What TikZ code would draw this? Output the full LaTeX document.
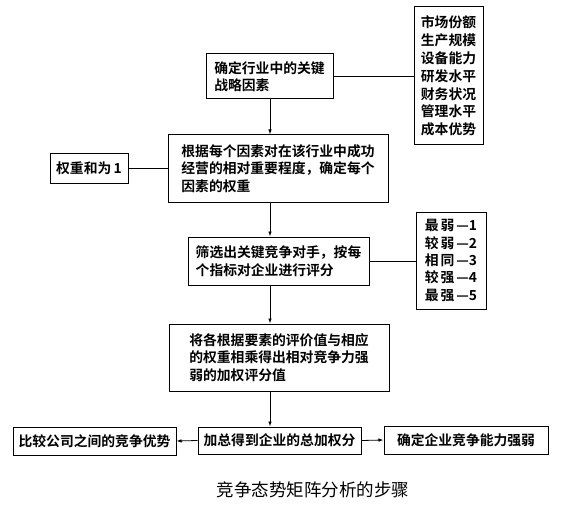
\documentclass[tikz,border=0pt]{standalone}
\usepackage{fontspec}
\setmainfont{Noto Sans CJK SC}
\newfontfamily\boxfont{Noto Sans CJK SC}[UprightFont={* Bold}]
\usetikzlibrary{arrows.meta}
\tikzset{
  box/.style={draw,line width=1pt,align=left,inner sep=0pt,font={\boxfont\fontsize{13.8}{17.5}\selectfont}},
  listbox/.style={box,font={\boxfont\fontsize{13.8}{17.8}\selectfont}},
  flow/.style={line width=0.8pt,-{Latex[length=5pt,width=3.5pt]}},
  link/.style={line width=0.8pt}
}
\begin{document}
\begin{tikzpicture}[x=1pt,y=-1pt]
\useasboundingbox (0,0) rectangle (562,508);
\coordinate (spine) at (270,0);
\node[box,minimum width=127pt,minimum height=45pt](key) at (269.5,76.5){确定行业中的关键\\战略因素};
\node[listbox,minimum width=69pt,minimum height=138pt](factors) at (448.5,76){市场份额\\生产规模\\设备能力\\研发水平\\财务状况\\管理水平\\成本优势};
\node[box,minimum width=78pt,minimum height=30pt](wsum) at (89,168){权重和为\,1};
\node[box,minimum width=220pt,minimum height=67pt](weigh) at (278,168.5){根据每个因素对在该行业中成功\\经营的相对重要程度，确定每个\\因素的权重};
\node[box,minimum width=181pt,minimum height=48pt](rival) at (278.5,261){筛选出关键竞争对手，按每\\个指标对企业进行评分};
\node[listbox,font={\boxfont\fontsize{13.8}{17.3}\selectfont},minimum width=70pt,minimum height=97pt](grade) at (451,260.5){最\hspace{2pt}弱\hspace{2pt}—1\\较\hspace{2pt}弱\hspace{2pt}—2\\相\hspace{2pt}同\hspace{2pt}—3\\较\hspace{2pt}强\hspace{2pt}—4\\最\hspace{2pt}强\hspace{2pt}—5};
\node[box,minimum width=220pt,minimum height=67pt](score) at (279,357.5){将各根据要素的评价值与相应\\的权重相乘得出相对竞争力强\\弱的加权评分值};
\node[box,minimum width=163pt,minimum height=27pt](total) at (279.5,440.5){加总得到企业的总加权分};
\node[box,minimum width=163pt,minimum height=28pt](compare) at (94.5,441){比较公司之间的竞争优势};
\node[box,minimum width=164pt,minimum height=28pt](judge) at (466,440){确定企业竞争能力强弱};
\node[font={\fontsize{17.5}{20}\selectfont}](caption) at (313,490){竞争态势矩阵分析的步骤};
\draw[link] (key.east) -- (key.east -| factors.west);
\draw[link] (wsum.east) -- (wsum.east -| weigh.west);
\draw[link] (rival.east) -- (rival.east -| grade.west);
\draw[flow] (key.south -| spine) -- (weigh.north -| spine);
\draw[flow] (weigh.south -| spine) -- (rival.north -| spine);
\draw[flow] (rival.south -| spine) -- (score.north -| spine);
\draw[flow] (score.south -| spine) -- (total.north -| spine);
\draw[flow] (total.west) -- (compare.east);
\draw[flow] (total.east) -- (judge.west);
\end{tikzpicture}
\end{document}
